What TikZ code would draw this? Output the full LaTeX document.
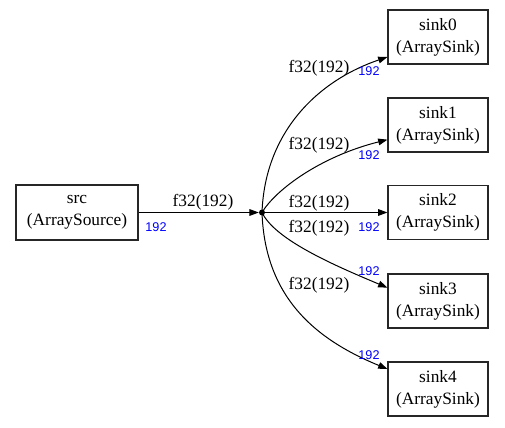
\documentclass[tikz,border=0pt]{standalone}
\usepackage{fontspec}
\setmainfont{Liberation Serif}
\newfontfamily\portfont{Liberation Sans}
\usetikzlibrary{arrows.meta,positioning}
\definecolor{portBlue}{RGB}{0,0,255}
\begin{document}
\begin{tikzpicture}[x=0.75pt, y=-0.75pt,
    block/.style={draw=black!85, line width=0.8pt, align=center, inner sep=0pt,
                  minimum width=75pt, minimum height=40.5pt,
                  font=\fontsize{13}{16.5}\selectfont},
    flow/.style={-{Triangle[length=7pt,width=5pt]}, line width=0.75pt},
    dtype/.style={font=\fontsize{13}{15}\selectfont, inner sep=0pt},
    port/.style={font=\portfont\fontsize{9.5}{11}\selectfont, text=portBlue, inner sep=0pt}
  ]
  \useasboundingbox (0,0) rectangle (505,427);

  % blocks
  \node[block, minimum width=91.5pt, minimum height=41.25pt] (src) at (77,212.5) {src\\(ArraySource)};
  \node[block] (s0) at (438,37)    {sink0\\(ArraySink)};
  \node[block] (s1) at (438,125)   {sink1\\(ArraySink)};
  \node[block] (s2) at (438,212.5) {sink2\\(ArraySink)};
  \node[block] (s3) at (438,301)   {sink3\\(ArraySink)};
  \node[block] (s4) at (438,389)   {sink4\\(ArraySink)};

  % split point
  \node[circle, fill, inner sep=0pt, minimum size=4.5pt] (j) at (262,212.5) {};

  % edges
  \draw[flow] (src.east) -- (j);
  \draw[flow] (j.center) .. controls +(3,-82) and +(-68,23) .. ([yshift=-15pt]s0.west);
  \draw[flow] (j.center) .. controls +(13,-22) and +(-68,17) .. ([yshift=-11pt]s1.west);
  \draw[flow] (j.center) -- (s2.west);
  \draw[flow] (j.center) .. controls +(13,27) and +(-55,-23) .. ([yshift=10pt]s3.west);
  \draw[flow] (j.center) .. controls +(3,88) and +(-68,-28) .. ([yshift=15pt]s4.west);

  % edge labels
  \node[dtype] (t0) at (203,202) {f32(192)};
  \node[port]  (p0) at (156,227) {192};
  \node[dtype] (t1) at (319,68)  {f32(192)};
  \node[port]  (p1) at (369,71)  {192};
  \node[dtype] (t2) at (319,145) {f32(192)};
  \node[port]  (p2) at (369,155) {192};
  \node[dtype] (t3) at (319,203) {f32(192)};
  \node[port]  (p3) at (369,227) {192};
  \node[dtype] (t4) at (319,228) {f32(192)};
  \node[port]  (p4) at (369,271) {192};
  \node[dtype] (t5) at (319,285) {f32(192)};
  \node[port]  (p5) at (369,355) {192};
\end{tikzpicture}
\end{document}
